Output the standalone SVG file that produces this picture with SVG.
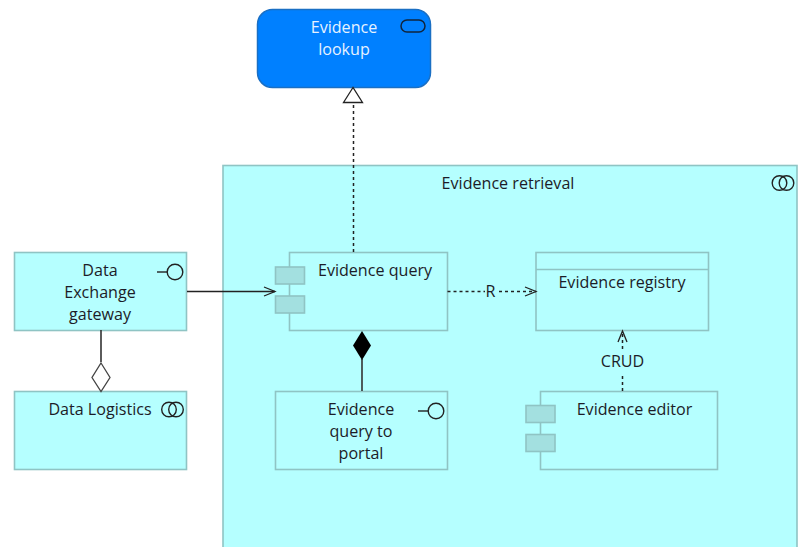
<svg xmlns="http://www.w3.org/2000/svg" width="800" height="547" viewBox="0 0 800 547">
<style>
.n{fill:#b5ffff;stroke:#8fc4c4;stroke-width:1.6}
.t{fill:#a3e0e0;stroke:#8fc4c4;stroke-width:1.6}
text{font-family:"Open Sans","Noto Sans",sans-serif;font-size:16.1px;fill:#1c1c28;text-anchor:middle}
.i{fill:none;stroke:#222;stroke-width:1.4}
.c{fill:none;stroke:#222;stroke-width:1.5}
.d{stroke-dasharray:3 3}
</style>
<defs>
<marker id="open" markerWidth="14" markerHeight="12" refX="12" refY="6" orient="auto" markerUnits="userSpaceOnUse"><path d="M1 1.500L12 6L1 10.500" fill="none" stroke="#222" stroke-width="1.300"/></marker>
</defs>
<rect width="800" height="547" fill="#fff"/>
<g id="evidence-retrieval">
<rect class="n" x="223" y="165.500" width="574" height="390"/>
<text x="508" y="189">Evidence retrieval</text>
<circle class="i" cx="779.500" cy="183" r="7.300"/><circle class="i" cx="786.500" cy="183" r="7.300"/>
</g>
<g id="evidence-lookup">
<rect x="257.500" y="9.500" width="173" height="78" rx="15" fill="#0080ff" stroke="#1a6fc4" stroke-width="1.500"/>
<text x="344" y="33" style="fill:#e6f2ff">Evidence</text>
<text x="344" y="55" style="fill:#e6f2ff">lookup</text>
<rect x="401" y="20" width="24" height="12" rx="6" fill="none" stroke="#10243c" stroke-width="1.500"/>
</g>
<g id="data-exchange-gateway">
<rect class="n" x="14.500" y="252.500" width="172" height="78"/>
<text x="100" y="276">Data</text>
<text x="100" y="298">Exchange</text>
<text x="100" y="320">gateway</text>
<circle class="i" cx="175" cy="272" r="7.800"/><path class="i" d="M157 272H167"/>
</g>
<g id="data-logistics">
<rect class="n" x="14.500" y="391.500" width="172" height="78"/>
<text x="100" y="415">Data Logistics</text>
<circle class="i" cx="169" cy="409.500" r="7.300"/><circle class="i" cx="176" cy="409.500" r="7.300"/>
</g>
<g id="evidence-query">
<rect class="n" x="289.500" y="252.500" width="158" height="78"/>
<rect class="t" x="275.500" y="267" width="29" height="17"/>
<rect class="t" x="275.500" y="296" width="29" height="17"/>
<text x="375" y="276">Evidence query</text>
</g>
<g id="evidence-query-to-portal">
<rect class="n" x="275.500" y="391.500" width="172" height="78"/>
<text x="361" y="415">Evidence</text>
<text x="361" y="437">query to</text>
<text x="361" y="459">portal</text>
<circle class="i" cx="436" cy="411" r="7.800"/><path class="i" d="M418 411H428"/>
</g>
<g id="evidence-registry">
<rect class="n" x="536" y="252.500" width="172.500" height="78"/>
<path d="M536 269.500H708.500" stroke="#8fc4c4" stroke-width="1.500" fill="none"/>
<text x="622" y="288">Evidence registry</text>
</g>
<g id="evidence-editor">
<rect class="n" x="540.500" y="391.500" width="177" height="78"/>
<rect class="t" x="526" y="405.500" width="29" height="17"/>
<rect class="t" x="526" y="434.500" width="29" height="17"/>
<text x="634.500" y="415">Evidence editor</text>
</g>
<g id="connectors">
<path class="c d" d="M353.500 252V103"/>
<path d="M353 87.500L343.500 102.500H362.500Z" fill="#fff" stroke="#222" stroke-width="1.300"/>
<path class="c" d="M187 291.500H275" marker-end="url(#open)"/>
<path d="M101 330V362" fill="none" stroke="#333" stroke-width="1.600"/>
<path d="M101 363L110 377.500L101 391.500L92 377.500Z" fill="#fff" stroke="#444" stroke-width="1.300"/>
<path d="M362 391V359" fill="none" stroke="#333" stroke-width="1.600"/>
<path d="M362 331L371 345.500L362 360L353 345.500Z" fill="#000"/>
<path class="c d" d="M447.500 291.500H485"/>
<path class="c d" d="M499 291.500H536" marker-end="url(#open)"/>
<text x="490.500" y="297">R</text>
<path class="c d" d="M622.500 391V373"/>
<path class="c d" d="M622.500 349V331" marker-end="url(#open)"/>
<text x="622.500" y="366.500">CRUD</text>
</g>
</svg>
